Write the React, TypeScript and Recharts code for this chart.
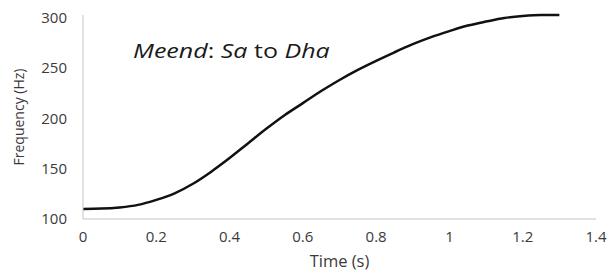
import { LineChart, Line, XAxis, YAxis } from "recharts";

// pitch contour, every 0.05 s
const times = [0, 0.05, 0.1, 0.15, 0.2, 0.25, 0.3, 0.35, 0.4, 0.45, 0.5, 0.55, 0.6, 0.65, 0.7, 0.75, 0.8, 0.85, 0.9, 0.95, 1.0, 1.05, 1.1, 1.15, 1.2, 1.25, 1.3];
const freqs = [110, 110.3, 111.5, 114, 119, 125.5, 135, 147, 160.5, 175, 189.5, 203, 215, 227, 238, 248, 257, 265.5, 273.5, 280.5, 286.5, 292, 296, 299.5, 301.5, 302.5, 302.5];

const xTicks = [0, 0.2, 0.4, 0.6, 0.8, 1, 1.2, 1.4];
const yTicks = [100, 150, 200, 250, 300];

const data = times.map((t, i) => ({ t, f: freqs[i] }));

const font = "'Open Sans', sans-serif";
const tickStyle = { fontSize: 15, fill: "#3a3a3a", fontFamily: font };

export default function App() {
  return (
    <div style={{ position: "absolute", left: 0, top: 0, width: 615, height: 274, background: "#fff" }}>
      <LineChart width={615} height={274} data={data} margin={{ top: 15, right: 19, left: 0, bottom: 0 }}>
        <XAxis
          dataKey="t"
          type="number"
          domain={[0, 1.4]}
          ticks={xTicks}
          tickLine={false}
          tickMargin={6}
          height={55}
          stroke="#c4c4c4"
          tick={tickStyle}
          label={{ value: "Time (s)", position: "insideBottom", offset: 7, style: { fontSize: 16.5, fill: "#3a3a3a", fontFamily: font } }}
        />
        <YAxis
          type="number"
          domain={[100, 300]}
          ticks={yTicks}
          tickLine={false}
          tickMargin={10}
          width={83}
          stroke="#c4c4c4"
          tick={tickStyle}
          label={{ value: "Frequency (Hz)", angle: -90, position: "insideLeft", offset: 19, style: { textAnchor: "middle", fontSize: 14, fill: "#3a3a3a", fontFamily: font } }}
        />
        <Line type="monotone" dataKey="f" stroke="#111" strokeWidth={2.5} dot={false} isAnimationActive={false} />
      </LineChart>
      <div style={{ position: "absolute", left: 133, top: 37, fontFamily: font, fontSize: 20, color: "#1a1a1a", whiteSpace: "nowrap", transform: "scaleX(1.25)", transformOrigin: "left top" }}>
        <i>Meend</i>: <i>Sa</i> to <i>Dha</i>
      </div>
    </div>
  );
}
